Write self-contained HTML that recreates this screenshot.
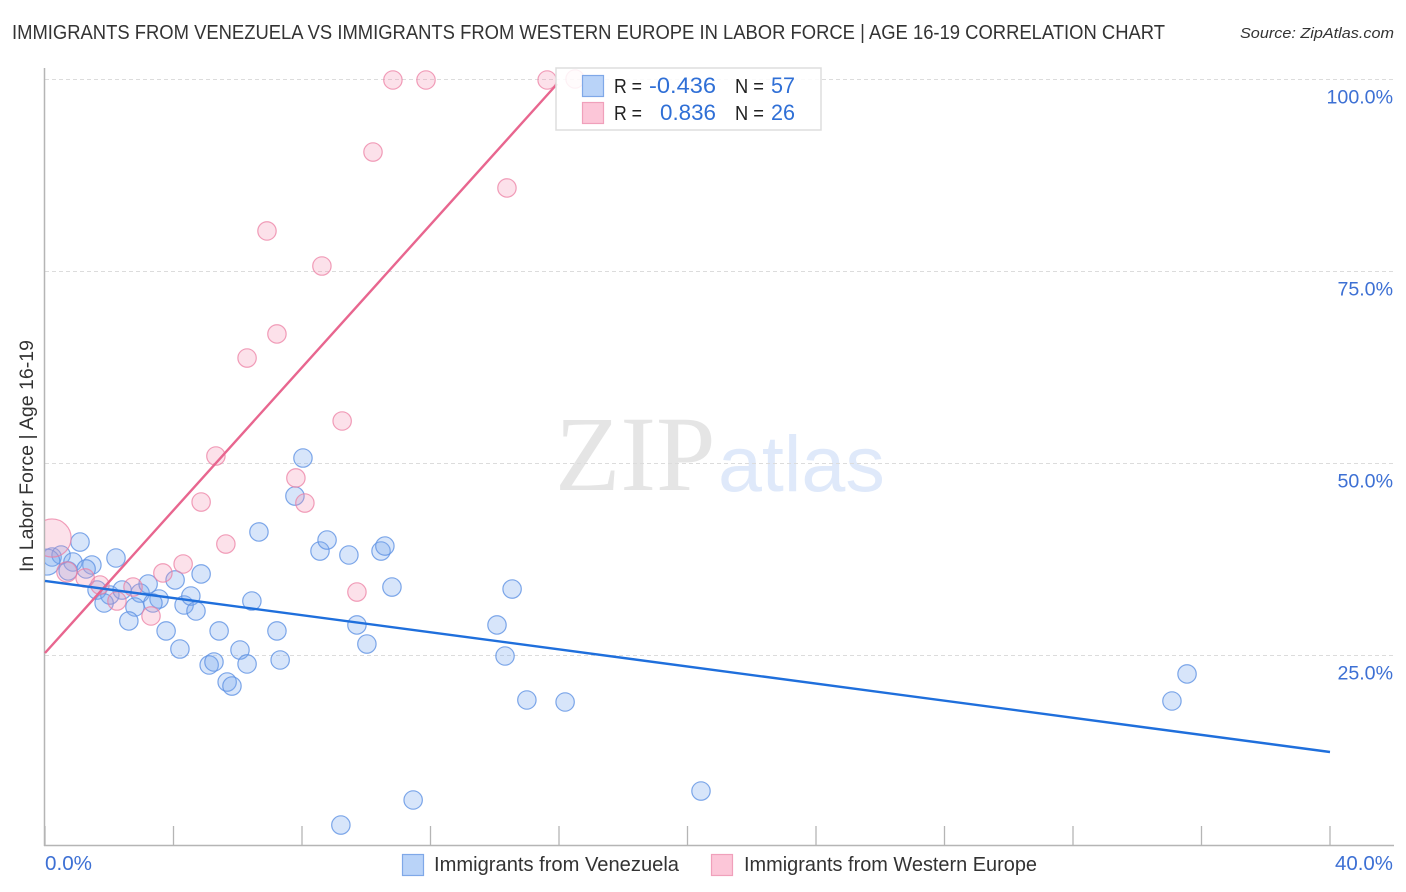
<!DOCTYPE html>
<html lang="en">
<head>
<meta charset="utf-8">
<title>Immigrants from Venezuela vs Immigrants from Western Europe Correlation Chart</title>
<style>
html,body{margin:0;padding:0;background:#fff;width:1406px;height:892px;overflow:hidden}
svg{display:block}
text{font-family:"Liberation Sans",sans-serif}
</style>
</head>
<body>
<svg id="chart" xmlns="http://www.w3.org/2000/svg" width="1406" height="892" viewBox="0 0 1406 892">
  <defs>
    <clipPath id="plotClip"><rect x="45" y="60" width="1349" height="786"/></clipPath>
  </defs>
  <rect x="0" y="0" width="1406" height="892" fill="#fff"/>
  <text x="12" y="39" font-size="20" fill="#333" textLength="1153" lengthAdjust="spacingAndGlyphs">IMMIGRANTS FROM VENEZUELA VS IMMIGRANTS FROM WESTERN EUROPE IN LABOR FORCE | AGE 16-19 CORRELATION CHART</text>
  <text x="1240" y="38" font-size="15" font-style="italic" fill="#333" textLength="154" lengthAdjust="spacingAndGlyphs">Source: ZipAtlas.com</text>
  <g>
    <text x="555" y="490" font-size="107" fill="#e5e5e5" style="font-family:'Liberation Serif',serif">ZIP</text>
    <text x="718" y="491" font-size="79" fill="#dfe9fa">atlas</text>
  </g>
  <g id="grid"></g>
  <g id="axes"></g>
  <g id="ptsBlue" clip-path="url(#plotClip)"></g>
  <g id="ptsPink" clip-path="url(#plotClip)"></g>
  <g id="trends"></g>
  <text transform="translate(33,572) rotate(-90)" font-size="19" fill="#333" textLength="232" lengthAdjust="spacingAndGlyphs">In Labor Force | Age 16-19</text>
  <g>
    <rect x="556" y="68" width="265" height="62" fill="#fff" fill-opacity="0.85" stroke="#ddd" stroke-width="1.5"/>
    <rect x="582.5" y="75.5" width="21" height="21" fill="#b9d3f8" stroke="#7fa8e8" stroke-width="1.2"/>
    <rect x="582.5" y="102.5" width="21" height="21" fill="#fcc6d8" stroke="#f0a0bb" stroke-width="1.2"/>
    <text x="614" y="93" font-size="20" fill="#222" textLength="28" lengthAdjust="spacingAndGlyphs">R =</text>
    <text x="649" y="93" font-size="22" fill="#2f6fd6" textLength="67" lengthAdjust="spacingAndGlyphs">-0.436</text>
    <text x="735" y="93" font-size="20" fill="#222" textLength="29" lengthAdjust="spacingAndGlyphs">N =</text>
    <text x="771" y="93" font-size="22" fill="#2f6fd6" textLength="24" lengthAdjust="spacingAndGlyphs">57</text>
    <text x="614" y="120" font-size="20" fill="#222" textLength="28" lengthAdjust="spacingAndGlyphs">R =</text>
    <text x="660" y="120" font-size="22" fill="#2f6fd6" textLength="56" lengthAdjust="spacingAndGlyphs">0.836</text>
    <text x="735" y="120" font-size="20" fill="#222" textLength="29" lengthAdjust="spacingAndGlyphs">N =</text>
    <text x="771" y="120" font-size="22" fill="#2f6fd6" textLength="24" lengthAdjust="spacingAndGlyphs">26</text>
  </g>
  <g>
    <rect x="402.5" y="854.5" width="21" height="21" fill="#b9d3f8" stroke="#7fa8e8" stroke-width="1.2"/>
    <text x="434" y="871" font-size="20" fill="#333" textLength="245" lengthAdjust="spacingAndGlyphs">Immigrants from Venezuela</text>
    <rect x="711.5" y="854.5" width="21" height="21" fill="#fcc6d8" stroke="#f0a0bb" stroke-width="1.2"/>
    <text x="744" y="871" font-size="20" fill="#333" textLength="293" lengthAdjust="spacingAndGlyphs">Immigrants from Western Europe</text>
  </g>
</svg>
<script>
const yTickValues = [100, 75, 50, 25];
const yTickLabels = ["100.0%", "75.0%", "50.0%", "25.0%"];
const xTickValues = [0, 4, 8, 12, 16, 20, 24, 28, 32, 36, 40];
const xEndLabels = ["0.0%", "40.0%"];

const venezuelaX = [0.22,0.5,0.06,1.09,0.87,0.72,1.46,1.28,2.21,1.62,2.02,1.84,2.4,2.96,2.8,2.61,3.21,3.55,3.36,3.77,4.05,4.2,4.33,4.54,4.7,4.86,5.11,5.26,5.42,5.67,5.82,6.07,6.29,6.44,6.66,7.22,7.32,7.78,8.03,8.56,8.78,9.46,9.71,10.02,10.46,10.58,10.8,14.07,14.32,14.54,15.0,16.19,11.46,9.21,20.42,35.08,35.55];
const venezuelaY = [37.76,38.02,37.1,39.71,37.11,35.94,36.72,36.2,37.63,33.46,32.81,31.77,33.46,33.07,31.25,29.43,34.24,32.29,31.77,28.13,34.77,25.78,31.51,32.68,30.73,35.55,23.7,24.09,28.13,21.48,20.96,25.65,23.83,32.03,41.02,28.13,24.35,45.7,50.65,38.54,39.97,38.02,28.91,26.43,38.54,39.19,33.85,28.91,24.87,33.59,19.14,18.88,6.12,2.86,7.29,19.01,22.53];
const venezuelaWeight = [1,1,2,1,1,1,1,1,1,1,1,1,1,1,1,1,1,1,1,1,1,1,1,1,1,1,1,1,1,1,1,1,1,1,1,1,1,1,1,1,1,1,1,1,1,1,1,1,1,1,1,1,1,1,1,1,1];

const europeX = [0.22,0.68,1.25,1.71,2.24,2.74,3.3,3.67,4.3,4.86,5.32,5.63,6.29,6.91,7.22,7.81,8.09,8.62,9.25,9.71,10.21,10.83,11.86,14.38,15.63,16.5];
const europeY = [40.23,35.81,35.03,34.11,32.03,33.85,30.08,35.68,36.85,44.92,50.91,39.45,63.67,80.21,66.8,48.05,44.79,75.65,55.47,33.2,90.49,99.87,99.87,85.81,99.87,100];
const europeWeight = [4.3,1.2,1,1,1,1,1,1,1,1,1,1,1,1,1,1,1,1,1,1,1,1,1,1,1,1];

const venezuelaTrendX = [0, 40];
const venezuelaTrendY = [34.64, 12.37];
const europeTrendX = [0, 15.94];
const europeTrendY = [25.26, 99.35];

const NS = "http://www.w3.org/2000/svg";
function sx(v){ return 45 + v * (1285 / 40); }
function sy(v){ return 847 - v * 7.68; }
function radius(w){ return 9.2 * Math.sqrt(w); }

const gridG = document.getElementById("grid");
const axesG = document.getElementById("axes");

yTickValues.forEach(function(v, i){
  const line = document.createElementNS(NS, "line");
  
  
  line.setAttribute("x1", 45);
  line.setAttribute("x2", 1394);
  line.setAttribute("y1", Math.round(sy(v)) + 0.5);
  line.setAttribute("y2", Math.round(sy(v)) + 0.5);
  line.setAttribute("stroke", "#dcdcdc");
  line.setAttribute("stroke-width", "1");
  line.setAttribute("stroke-dasharray", "4 3");
  gridG.appendChild(line);

  const label = document.createElementNS(NS, "text");
  
  
  label.setAttribute("x", 1393);
  label.setAttribute("y", sy(v) + 24.5);
  label.setAttribute("text-anchor", "end");
  label.setAttribute("font-size", "19.6");
  label.setAttribute("fill", "#3d70d4");
  label.textContent = yTickLabels[i];
  axesG.appendChild(label);
});

const yAxis = document.createElementNS(NS, "line");


yAxis.setAttribute("x1", 44.5);
yAxis.setAttribute("x2", 44.5);
yAxis.setAttribute("y1", 68);
yAxis.setAttribute("y2", 846);
yAxis.setAttribute("stroke", "#b5b5b5");
yAxis.setAttribute("stroke-width", "1.5");
axesG.appendChild(yAxis);

const xAxis = document.createElementNS(NS, "line");


xAxis.setAttribute("x1", 44);
xAxis.setAttribute("x2", 1394);
xAxis.setAttribute("y1", 845.5);
xAxis.setAttribute("y2", 845.5);
xAxis.setAttribute("stroke", "#b5b5b5");
xAxis.setAttribute("stroke-width", "1.5");
axesG.appendChild(xAxis);

xTickValues.forEach(function(v){
  const tick = document.createElementNS(NS, "line");
  
  
  tick.setAttribute("x1", sx(v));
  tick.setAttribute("x2", sx(v));
  tick.setAttribute("y1", 826);
  tick.setAttribute("y2", 845);
  tick.setAttribute("stroke", "#b5b5b5");
  tick.setAttribute("stroke-width", "1.3");
  axesG.appendChild(tick);
});

const xLabelStart = document.createElementNS(NS, "text");


xLabelStart.setAttribute("x", sx(0));
xLabelStart.setAttribute("y", 870);
xLabelStart.setAttribute("font-size", "20");
xLabelStart.setAttribute("fill", "#3d70d4");
xLabelStart.setAttribute("textLength", "47");
xLabelStart.setAttribute("lengthAdjust", "spacingAndGlyphs");
xLabelStart.textContent = xEndLabels[0];
axesG.appendChild(xLabelStart);

const xLabelEnd = document.createElementNS(NS, "text");


xLabelEnd.setAttribute("x", 1335);
xLabelEnd.setAttribute("y", 870);
xLabelEnd.setAttribute("font-size", "20");
xLabelEnd.setAttribute("fill", "#3d70d4");
xLabelEnd.setAttribute("textLength", "58");
xLabelEnd.setAttribute("lengthAdjust", "spacingAndGlyphs");
xLabelEnd.textContent = xEndLabels[1];
axesG.appendChild(xLabelEnd);

const blueG = document.getElementById("ptsBlue");
venezuelaX.forEach(function(x, i){
  const c = document.createElementNS(NS, "circle");
  
  
  c.setAttribute("cx", sx(x));
  c.setAttribute("cy", sy(venezuelaY[i]));
  c.setAttribute("r", radius(venezuelaWeight[i]));
  c.setAttribute("fill", "#7aa9ee");
  c.setAttribute("fill-opacity", "0.3");
  c.setAttribute("stroke", "#5f92e4");
  c.setAttribute("stroke-opacity", "0.8");
  c.setAttribute("stroke-width", "1.2");
  blueG.appendChild(c);
});

const pinkG = document.getElementById("ptsPink");
europeX.forEach(function(x, i){
  const c = document.createElementNS(NS, "circle");
  
  
  c.setAttribute("cx", sx(x));
  c.setAttribute("cy", sy(europeY[i]));
  c.setAttribute("r", radius(europeWeight[i]));
  c.setAttribute("fill", "#f48fb1");
  c.setAttribute("fill-opacity", "0.27");
  c.setAttribute("stroke", "#ec7fa3");
  c.setAttribute("stroke-opacity", "0.75");
  c.setAttribute("stroke-width", "1.2");
  pinkG.appendChild(c);
});

const trendsG = document.getElementById("trends");

const europeLine = document.createElementNS(NS, "line");


europeLine.setAttribute("x1", sx(europeTrendX[0]));
europeLine.setAttribute("y1", sy(europeTrendY[0]));
europeLine.setAttribute("x2", sx(europeTrendX[1]));
europeLine.setAttribute("y2", sy(europeTrendY[1]));
europeLine.setAttribute("stroke", "#e8668f");
europeLine.setAttribute("stroke-width", "2.4");
trendsG.appendChild(europeLine);

const venezuelaLine = document.createElementNS(NS, "line");


venezuelaLine.setAttribute("x1", sx(venezuelaTrendX[0]));
venezuelaLine.setAttribute("y1", sy(venezuelaTrendY[0]));
venezuelaLine.setAttribute("x2", sx(venezuelaTrendX[1]));
venezuelaLine.setAttribute("y2", sy(venezuelaTrendY[1]));
venezuelaLine.setAttribute("stroke", "#1f6fdc");
venezuelaLine.setAttribute("stroke-width", "2.4");
trendsG.appendChild(venezuelaLine);
</script>
</body>
</html>
